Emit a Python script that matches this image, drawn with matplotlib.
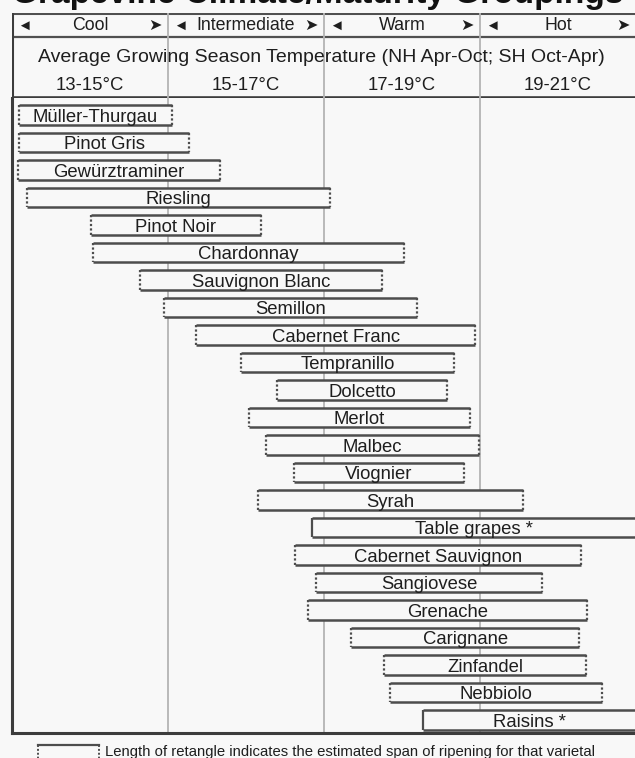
import matplotlib
matplotlib.use('Agg')
import matplotlib.pyplot as plt
from matplotlib.lines import Line2D

plt.rcParams['font.family'] = ['Liberation Sans', 'DejaVu Sans']

# zones across the top
zones = ['Cool', 'Intermediate', 'Warm', 'Hot']
zone_edges = [13, 15, 17, 19, 21]
zone_temps = ['13-15°C', '15-17°C', '17-19°C', '19-21°C']

# ripening spans (deg C)
varieties = ['Müller-Thurgau', 'Pinot Gris', 'Gewürztraminer', 'Riesling', 'Pinot Noir',
             'Chardonnay', 'Sauvignon Blanc', 'Semillon', 'Cabernet Franc', 'Tempranillo',
             'Dolcetto', 'Merlot', 'Malbec', 'Viognier', 'Syrah', 'Table grapes *',
             'Cabernet Sauvignon', 'Sangiovese', 'Grenache', 'Carignane', 'Zinfandel',
             'Nebbiolo', 'Raisins *']
span_lo = [13.09, 13.09, 13.08, 13.19, 14.01, 14.04, 14.64, 14.95, 15.36, 15.94,
           16.40, 16.04, 16.26, 16.62, 16.15, 16.85, 16.63, 16.90, 16.79, 17.35,
           17.77, 17.85, 18.27]
span_hi = [15.05, 15.27, 15.67, 17.08, 16.19, 18.03, 17.74, 18.19, 18.94, 18.67,
           18.58, 18.87, 18.99, 18.79, 19.55, 21.10, 20.29, 19.79, 20.37, 20.27,
           20.36, 20.56, 21.10]
not_varietal = ['Table grapes *', 'Raisins *']

title = 'Grapevine Climate/Maturity Groupings'
header_line = 'Average Growing Season Temperature (NH Apr-Oct; SH Oct-Apr)'
legend_text = 'Length of retangle indicates the estimated span of ripening for that varietal'

W, H = 635, 758
bg = '#f8f8f8'
edge = '#4d4d4d'
grid = '#b4b4b4'
txt = '#1e1e1e'

fig = plt.figure(figsize=(W / 100, H / 100), dpi=100, facecolor=bg)

def fx(px):
    return px / W

def fy(px):
    return 1 - px / H

x0, x1 = 13.0, 21.0
left_px, right_px = 12, 636

# ---- main chart
ax = fig.add_axes([fx(left_px), fy(733), fx(right_px - left_px), (733 - 98) / H])
ax.set_facecolor(bg)
ax.set_xlim(x0, x1)
ax.set_ylim(22.47, -0.62)
ax.set_xticks([])
ax.set_yticks([])
for s in ['top', 'right']:
    ax.spines[s].set_visible(False)
ax.spines['left'].set_color('#3c3c3c')
ax.spines['left'].set_linewidth(2.2)
ax.spines['bottom'].set_color('#3c3c3c')
ax.spines['bottom'].set_linewidth(2.2)
for e in zone_edges[1:-1]:
    ax.axvline(e, color=grid, lw=1.3, zorder=0)

h = 0.72
rows = list(range(len(varieties)))
ax.barh(rows, [b - a for a, b in zip(span_lo, span_hi)], left=span_lo, height=h,
        color=bg, edgecolor='none', zorder=2)
for i, name in enumerate(varieties):
    a, b = span_lo[i], span_hi[i]
    ax.hlines([i - h / 2, i + h / 2], a, b, colors=edge, lw=1.8, zorder=3)
    ls = '-' if name in not_varietal else (0, (1, 1))
    ax.vlines([a, b], i - h / 2, i + h / 2, colors=edge, lw=1.6, linestyles=ls, zorder=3)
    cx = (a + min(b, x1)) / 2
    ax.text(cx, i + 0.24, name, ha='center', va='baseline', fontsize=13.3, color=txt, zorder=4)

# ---- header
hx = fig.add_axes([fx(left_px), fy(98), fx(right_px - left_px), (98 - 13) / H])
hx.set_facecolor(bg)
hx.set_xlim(x0, x1)
hx.set_ylim(85, 0)
hx.axis('off')
hx.axhline(0, color='#505050', lw=2.2)
hx.axhline(24, color='#505050', lw=1.6)
hx.axhline(85, color='#3c3c3c', lw=2.6)
hx.axvline(x0, color='#3c3c3c', lw=2.2)
for e in zone_edges[1:-1]:
    hx.axvline(e, color=grid, lw=1.3)
for k, z in enumerate(zones):
    a, b = zone_edges[k], zone_edges[k + 1]
    mid = (a + b) / 2
    hx.text(mid, 12.5, z, ha='center', va='center', fontsize=12.8, color=txt)
    hx.text(a + 0.16, 12.5, '◄', ha='center', va='center', fontsize=10.5, color=txt)
    hx.text(b - 0.17, 12.5, '➤', ha='center', va='center', fontsize=11.5, color=txt)
    hx.text(mid, 72, zone_temps[k], ha='center', va='center', fontsize=13.3, color=txt)
hx.text((x0 + x1) / 2 - 0.03, 45, header_line, ha='center', va='center', fontsize=14, color=txt)

# ---- title, cropped by the top edge as in the source image
fig.text(0.5, fy(3), title, ha='center', va='baseline', fontsize=24,
         fontweight='bold', color='#111111')

# ---- legend key at the bottom
fig.add_artist(Line2D([fx(38), fx(99)], [fy(745), fy(745)], color=edge, lw=1.6))
for px in [38, 99]:
    fig.add_artist(Line2D([fx(px), fx(px)], [fy(745), fy(762)], color=edge, lw=1.4,
                          linestyle=(0, (1, 1))))
fig.text(fx(105), fy(752), legend_text, ha='left', va='center', fontsize=10.7, color=txt)

fig.savefig('out.png', dpi=100, facecolor=bg)
